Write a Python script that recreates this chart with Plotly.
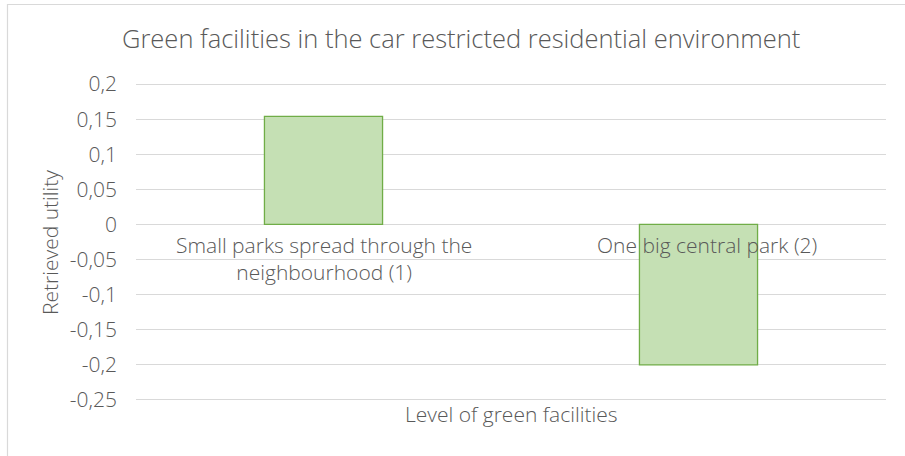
import plotly.graph_objects as go

# Data
categories = ["Small parks spread through the<br>neighbourhood (1)", "One big central park (2)"]
utilities = [0.154, -0.2]
tick_values = [0.2, 0.15, 0.1, 0.05, 0, -0.05, -0.1, -0.15, -0.2, -0.25]
tick_labels = ["0,2", "0,15", "0,1", "0,05", "0", "-0,05", "-0,1", "-0,15", "-0,2", "-0,25"]

TEXT = "#595959"
GRID = "#d9d9d9"
FONT = "Open Sans"

W, H = 905, 456
ML, MR, MT, MB = 136, 19, 83, 55
PW, PH = W - ML - MR, H - MT - MB
Y_RANGE = [-0.2515, 0.2015]


def px_x(px):
    return (px - ML) / PW


def px_y(py):
    return 1 - (py - MT) / PH


fig = go.Figure()
fig.add_trace(go.Bar(
    x=categories,
    y=utilities,
    width=0.315,
    marker=dict(color="#c5e0b4", line=dict(color="#70ad47", width=1.3)),
    hoverinfo="skip",
))

# Category labels sit at the zero line, drawn over the bars
shifts = [0, 8]
for cat, dx in zip(categories, shifts):
    fig.add_annotation(
        x=cat, y=0, xref="x", yref="y",
        text=cat, showarrow=False, yanchor="top", xanchor="center",
        yshift=-5, xshift=dx, align="center",
        font=dict(family=FONT, size=21, color=TEXT, weight=300),
    )

# Chart title
fig.add_annotation(
    x=px_x(461), y=px_y(38), xref="paper", yref="paper",
    text="Green facilities in the car restricted residential environment",
    showarrow=False, xanchor="center", yanchor="middle",
    font=dict(family=FONT, size=25.5, color=TEXT, weight=300),
)
# X axis title
fig.add_annotation(
    x=px_x(511), y=px_y(414), xref="paper", yref="paper",
    text="Level of green facilities",
    showarrow=False, xanchor="center", yanchor="middle",
    font=dict(family=FONT, size=21, color=TEXT, weight=300),
)
# Y axis title
fig.add_annotation(
    x=px_x(50), y=px_y(243), xref="paper", yref="paper",
    text="Retrieved utility", textangle=-90,
    showarrow=False, xanchor="center", yanchor="middle",
    font=dict(family=FONT, size=21, color=TEXT, weight=300),
)

# Chart-area frame
fig.add_shape(
    type="rect", xref="paper", yref="paper",
    x0=px_x(7.5), x1=px_x(915), y0=px_y(470), y1=px_y(4.5),
    line=dict(color=GRID, width=1.2), fillcolor="rgba(0,0,0,0)", layer="below",
)

fig.update_layout(
    width=W, height=H,
    margin=dict(l=ML, r=MR, t=MT, b=MB),
    paper_bgcolor="white", plot_bgcolor="white",
    showlegend=False,
    xaxis=dict(showticklabels=False, showgrid=False, zeroline=False, showline=False, ticks=""),
    yaxis=dict(
        range=Y_RANGE, tickvals=tick_values, ticktext=tick_labels,
        showgrid=True, gridcolor=GRID, gridwidth=1.3,
        zeroline=True, zerolinecolor=GRID, zerolinewidth=1.3,
        showline=False, ticks="", ticklabelstandoff=18,
        tickfont=dict(family=FONT, size=21, color=TEXT, weight=300),
    ),
)

fig.write_html("out.html")
